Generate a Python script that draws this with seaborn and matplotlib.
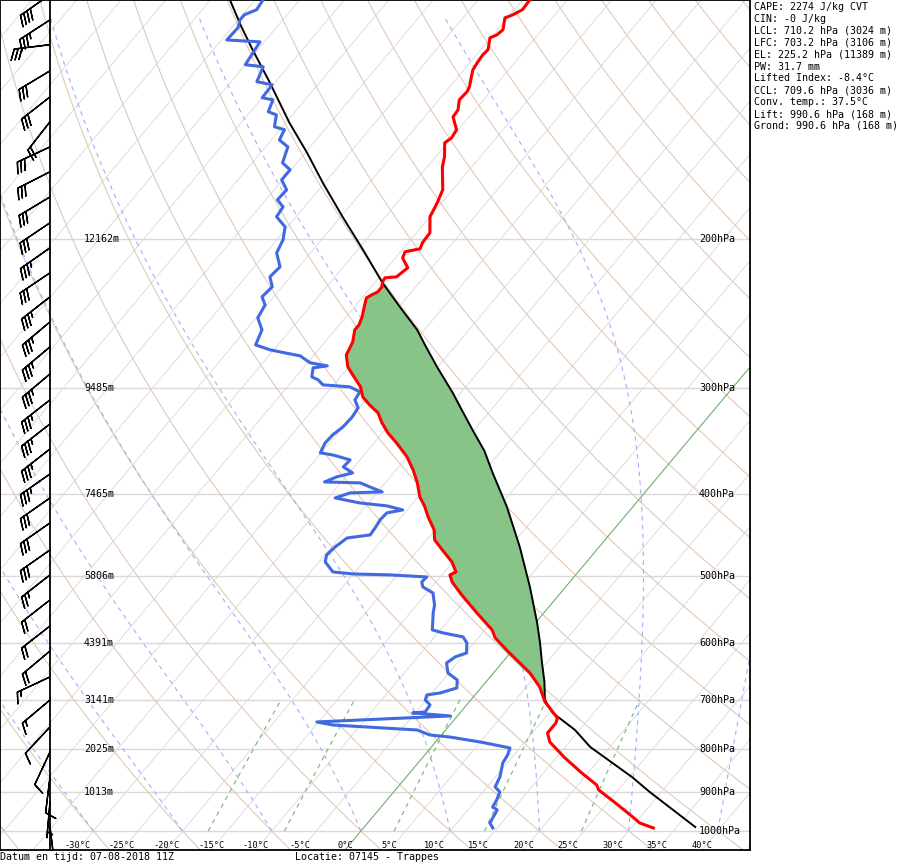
import numpy as np
import pandas as pd
import matplotlib
matplotlib.use("Agg")
import matplotlib.pyplot as plt
import seaborn as sns

# ---------------- data ----------------
# environment temperature (hPa, degC), surface -> top
temp_p = [991.9, 978.5, 957.5, 926.7, 894.6, 882.5, 854.2, 820.0, 785.2, 766.2,
          745.7, 735.6, 715.9, 704.3, 676.2, 651.0, 633.5, 611.5, 591.8, 579.1,
          553.0, 526.6, 508.3, 498.7, 494.7, 481.4, 466.0, 453.5, 441.3, 426.0,
          414.6, 403.5, 388.4, 374.9, 361.9, 348.4, 339.1, 330.0, 321.1, 314.2,
          307.5, 299.2, 289.6, 283.4, 274.3, 272.1, 264.8, 256.3, 252.8, 247.4,
          240.8, 235.0, 233.1, 231.2, 228.0, 225.0, 222.5, 221.9, 216.5, 210.8,
          207.3, 205.6, 202.3, 196.9, 188.5, 181.5, 175.2, 164.6, 160.2, 154.2,
          152.1, 148.8, 143.7, 141.0, 137.2, 134.2, 132.4, 126.5, 123.7, 121.4,
          119.7, 115.9, 115.0, 113.4, 109.8, 108.9, 107.4, 104.6]
temp_t = [32.5, 30.5, 28.7, 25.9, 22.8, 22.1, 19.3, 16.0, 12.8, 11.7,
          11.7, 11.4, 9.6, 8.5, 6.5, 4.1, 2.0, -0.7, -3.1, -4.2,
          -7.5, -10.9, -13.2, -14.1, -13.7, -15.1, -17.3, -19.1, -20.1, -22.0,
          -23.3, -24.8, -26.4, -28.1, -30.0, -32.5, -34.4, -36.0, -37.4, -39.1,
          -40.6, -41.8, -43.8, -45.1, -46.4, -46.5, -46.9, -47.8, -47.8, -48.2,
          -48.9, -49.5, -49.2, -48.8, -48.8, -49.2, -49.3, -48.1, -47.7, -49.2,
          -49.5, -48.1, -48.4, -48.5, -50.0, -50.5, -51.1, -53.3, -54.0, -55.3,
          -55.0, -55.2, -56.8, -56.9, -57.7, -57.6, -57.8, -59.0, -59.2, -59.3,
          -59.2, -60.1, -59.6, -59.4, -60.3, -59.7, -59.1, -59.2]

# dew point (hPa, degC)
dew_p = [991.9, 978.5, 944.5, 936.9, 919.2, 899.4, 887.3, 863.5, 831.3, 813.4,
         798.1, 793.7, 785.2, 774.6, 770.4, 760.0, 749.8, 743.6, 731.6, 725.6,
         723.7, 710.1, 700.5, 691.0, 687.3, 678.0, 663.5, 651.0, 633.5, 623.2,
         616.5, 600.0, 590.2, 583.9, 579.1, 553.0, 541.1, 523.8, 515.3, 508.3,
         501.5, 498.7, 497.4, 494.7, 481.4, 472.4, 462.2, 451.1, 447.4, 438.9,
         429.5, 421.4, 418.0, 413.5, 410.1, 404.6, 399.1, 398.0, 393.7, 388.4,
         387.4, 382.1, 378.0, 371.9, 364.9, 360.0, 358.0, 348.4, 340.9, 333.6,
         324.7, 316.8, 310.0, 303.3, 299.2, 297.6, 293.6, 291.2, 284.2, 282.6,
         280.3, 275.0, 272.8, 270.6, 267.0, 256.3, 248.1, 239.5, 234.3, 228.0,
         221.9, 216.0, 207.9, 200.7, 193.7, 188.5, 183.5, 180.0, 175.2, 170.5,
         165.9, 162.8, 155.9, 153.0, 148.8, 147.6, 142.9, 141.7, 137.2, 136.4,
         131.7, 130.6, 125.4, 124.7, 117.2, 116.6, 112.8, 110.4, 108.9, 107.4,
         104.6]
dew_t = [14.5, 13.7, 13.3, 12.5, 12.3, 11.9, 10.9, 10.5, 9.5, 9.3,
         8.9, 7.6, 5.0, 1.1, -1.3, -3.2, -13.1, -15.2, -0.8, -5.3,
         -4.0, -4.1, -5.1, -5.4, -4.1, -2.7, -3.4, -5.1, -6.2, -5.8,
         -4.9, -5.8, -6.8, -9.4, -10.9, -12.4, -13.0, -14.3, -16.0, -16.6,
         -16.5, -20.8, -25.1, -27.5, -29.3, -29.8, -29.6, -29.1, -26.8, -26.9,
         -27.1, -27.0, -25.5, -27.6, -31.0, -34.2, -33.0, -29.5, -31.0, -32.8,
         -36.9, -36.0, -34.6, -36.2, -36.1, -38.5, -40.1, -40.5, -40.4, -40.0,
         -39.9, -40.1, -41.2, -41.4, -43.0, -46.2, -47.2, -48.2, -48.9, -47.5,
         -49.7, -51.5, -53.5, -55.4, -57.5, -58.2, -59.8, -60.2, -61.3, -61.1,
         -62.3, -62.1, -63.8, -64.3, -65.3, -67.2, -67.4, -68.7, -68.6, -70.1,
         -70.1, -71.6, -72.5, -74.1, -74.5, -75.9, -76.8, -78.0, -78.6, -80.0,
         -80.1, -82.1, -82.8, -85.0, -85.5, -89.4, -89.3, -89.8, -89.8, -88.9,
         -89.1]

# lifted parcel (hPa, degC)
parcel_p = [989.2, 899.4, 863.5, 795.9, 760.0, 725.6, 700.5, 666.0, 633.5, 600.0,
            568.3, 515.3, 462.2, 414.6, 378.0, 356.0, 336.3, 319.0, 304.1, 283.4,
            268.0, 256.3, 240.8, 225.6, 206.2, 188.5, 171.9, 158.4, 146.0, 130.6,
            119.7, 112.5, 104.6]
parcel_t = [37.1, 28.7, 25.3, 17.8, 14.5, 10.4, 8.3, 6.5, 4.5, 2.4,
            0.2, -4.0, -8.9, -14.1, -18.9, -21.9, -25.2, -28.2, -30.9, -35.1,
            -38.3, -40.8, -44.9, -49.1, -54.4, -59.8, -65.2, -69.8, -74.6, -80.7,
            -85.6, -89.0, -92.8]

# wind (hPa, direction deg, speed kt)
wind_p = [103.1, 110.4, 118.1, 126.8, 136.1, 145.6, 155.9, 166.8, 178.6, 191.6,
          205.1, 219.5, 234.3, 250.8, 268.4, 288.9, 310.0, 330.9, 354.2, 379.1,
          404.6, 433.0, 466.0, 498.7, 533.8, 572.9, 613.2, 658.0, 700.5, 753.8,
          806.8, 863.5, 924.2, 989.2]
wind_dir = [235, 237, 263, 239, 232, 218, 245, 243, 239, 236,
            235, 236, 232, 230, 230, 230, 232, 232, 232, 235,
            235, 235, 235, 232, 232, 232, 230, 245, 230, 223,
            205, 187, 185, 173]
wind_kt = [40, 35, 30, 30, 30, 20, 30, 30, 30, 30,
           35, 30, 35, 35, 35, 35, 35, 35, 35, 35,
           30, 30, 30, 25, 20, 20, 20, 15, 15, 10,
           10, 10, 5, 5]

level_p = [1000, 900, 800, 700, 600, 500, 400, 300, 200]
level_hpa_labels = ["1000hPa", "900hPa", "800hPa", "700hPa", "600hPa",
                    "500hPa", "400hPa", "300hPa", "200hPa"]
level_height_labels = ["", "1013m", "2025m", "3141m", "4391m",
                       "5806m", "7465m", "9485m", "12162m"]
temp_ticks = [-30, -25, -20, -15, -10, -5, 0, 5, 10, 15, 20, 25, 30, 35, 40]
mixing_ratios = [1, 2, 5, 10, 20]
lfc_p, el_p = 703.2, 225.2
info_lines = ["CAPE: 2274 J/kg CVT", "CIN: -0 J/kg", "LCL: 710.2 hPa (3024 m)",
              "LFC: 703.2 hPa (3106 m)", "EL: 225.2 hPa (11389 m)", "PW: 31.7 mm",
              "Lifted Index: -8.4°C", "CCL: 709.6 hPa (3036 m)",
              "Conv. temp.: 37.5°C", "Lift: 990.6 hPa (168 m)",
              "Grond: 990.6 hPa (168 m)"]
footer_left = "Datum en tijd: 07-08-2018 11Z"
footer_right = "Locatie: 07145 - Trappes"

# ---------------- skew-T geometry ----------------
P_BOT, P_TOP = 1053.0, 104.6
SKEW = 34.6
X_LEFT, X_RIGHT = -38.68, 45.40


def sx(t, p):
    return np.asarray(t, float) + SKEW * np.log(P_BOT / np.asarray(p, float))


def moist_adiabat(t0c, p):
    Rd, cp, Lv, eps = 287.04, 1005.7, 2.501e6, 0.622

    def f(T, pp):
        es = 6.112 * np.exp(17.67 * (T - 273.15) / (T - 29.65))
        rs = eps * es / (pp - es)
        return (Rd * T + Lv * rs) / (pp * (cp + Lv * Lv * rs * eps / (Rd * T * T)))

    T = t0c + 273.15
    out = [T]
    for i in range(1, len(p)):
        p0 = p[i - 1]
        dp = p[i] - p0
        k1 = f(T, p0)
        k2 = f(T + 0.5 * dp * k1, p0 + 0.5 * dp)
        k3 = f(T + 0.5 * dp * k2, p0 + 0.5 * dp)
        k4 = f(T + dp * k3, p[i])
        T = T + dp * (k1 + 2 * k2 + 2 * k3 + k4) / 6
        out.append(T)
    return np.array(out) - 273.15


plt.rcParams['font.family'] = ['DejaVu Sans Mono']
fig = plt.figure(figsize=(9.0, 8.65), dpi=100)
ax = fig.add_axes([0, 15 / 865, 750 / 900, 850 / 865])
ax.set_yscale('log')
ax.set_ylim(P_BOT, P_TOP)
ax.set_xlim(X_LEFT, X_RIGHT)

# pressure lines
for p in level_p:
    ax.axhline(p, color='#d9d9d9', lw=1.0, zorder=1)

# isotherms
for t in np.arange(-120, 50, 5):
    if t == 0:
        continue
    ax.plot(sx([t, t], [P_BOT, P_TOP]), [P_BOT, P_TOP], color='#dddddd', lw=0.7, zorder=1)
ax.plot(sx([0, 0], [P_BOT, P_TOP]), [P_BOT, P_TOP], color='#6db06d', lw=0.8, zorder=2)

# dry adiabats
pp = np.geomspace(P_BOT, P_TOP, 200)
for th in np.arange(-40, 210, 10):
    T = (th + 273.15) * (pp / 1000.0) ** 0.2857 - 273.15
    ax.plot(sx(T, pp), pp, color='#e3c9b6', lw=0.8, zorder=1)

# moist adiabats
pm = np.geomspace(1000, 110, 160)
for tw in np.arange(-40, 60, 10):
    T = moist_adiabat(tw, pm)
    ax.plot(sx(T, pm), pm, color='#a9a9ff', lw=0.8, ls=(0, (4, 4)), zorder=1)

# mixing ratio lines
pw = np.geomspace(1000, 700, 30)
for w in mixing_ratios:
    e = w * pw / (622.0 + w)
    lne = np.log(e / 6.112)
    T = 243.5 * lne / (17.67 - lne)
    ax.plot(sx(T, pw), pw, color='#74b474', lw=0.8, ls=(0, (4, 4)), zorder=1)

# CAPE area
pg = np.geomspace(lfc_p, el_p, 400)
tp = np.array(temp_p); tt = np.array(temp_t)
o = np.argsort(tp)
env = np.interp(np.log(pg), np.log(tp[o]), tt[o])
pp_ = np.array(parcel_p); pt_ = np.array(parcel_t)
o2 = np.argsort(pp_)
par = np.interp(np.log(pg), np.log(pp_[o2]), pt_[o2])
ax.fill_betweenx(pg, sx(env, pg), sx(par, pg), where=par >= env,
                 color='#88c488', lw=0, zorder=3)

# curves
df_par = pd.DataFrame({'x': sx(parcel_t, parcel_p), 'p': parcel_p})
df_dew = pd.DataFrame({'x': sx(dew_t, dew_p), 'p': dew_p})
df_tmp = pd.DataFrame({'x': sx(temp_t, temp_p), 'p': temp_p})
sns.lineplot(data=df_par, x='x', y='p', sort=False, estimator=None,
             color='black', lw=1.4, ax=ax, zorder=4)
sns.lineplot(data=df_dew, x='x', y='p', sort=False, estimator=None,
             color='#4169e1', lw=2.2, ax=ax, zorder=5)
sns.lineplot(data=df_tmp, x='x', y='p', sort=False, estimator=None,
             color='#ff0000', lw=2.2, ax=ax, zorder=6)

# wind barbs
BARB_AX = 50 / 750
ax.plot([BARB_AX, BARB_AX], [0, 1], transform=ax.transAxes, color='black', lw=1.3, zorder=7)
spd = np.array(wind_kt, float)
dr = np.radians(wind_dir)
u = -spd * np.sin(dr)
v = -spd * np.cos(dr)
ax.barbs(np.full(len(wind_p), BARB_AX), wind_p, u, v,
         transform=ax.get_yaxis_transform(), length=7.2, lw=1.0, color='black',
         flip_barb=True,
         sizes=dict(spacing=0.11, height=0.3, width=0.25, emptybarb=0.0), zorder=8)

# labels
ytr = ax.get_yaxis_transform()
for p, lab, hl in zip(level_p, level_hpa_labels, level_height_labels):
    ax.text(699 / 750, p, lab, transform=ytr, ha='left', va='center', fontsize=7.2, zorder=9)
    if hl:
        ax.text(84 / 750, p, hl, transform=ytr, ha='left', va='center', fontsize=7.2, zorder=9)
xtr = ax.get_xaxis_transform()
for t in temp_ticks:
    ax.text(t, 4.5 / 850, f"{t}°C", transform=xtr, ha='center', va='center', fontsize=6.2, zorder=9)

ax.set_xlabel('')
ax.set_ylabel('')
ax.set_xticks([])
ax.set_yticks([])
ax.set_yticks([], minor=True)
ax.tick_params(which='both', length=0, labelleft=False, labelbottom=False)
for s in ax.spines.values():
    s.set_color('black')
    s.set_linewidth(1.3)

for i, line in enumerate(info_lines):
    fig.text(754 / 900, 1 - (7 + 11.9 * i) / 865, line, ha='left', va='center', fontsize=7.2)
fig.text(0.0, 1 - 857 / 865, footer_left, ha='left', va='center', fontsize=7.2)
fig.text(295 / 900, 1 - 857 / 865, footer_right, ha='left', va='center', fontsize=7.2)

fig.savefig('out.png', dpi=100)
